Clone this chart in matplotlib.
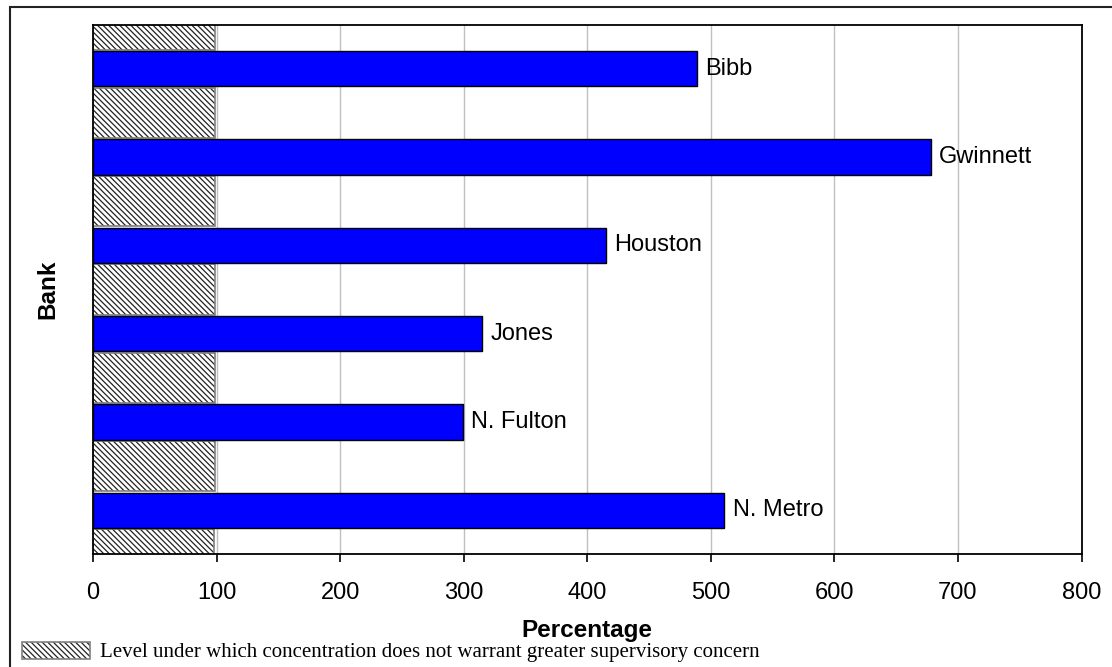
import numpy as np
import matplotlib
matplotlib.use('Agg')
import matplotlib.pyplot as plt
from matplotlib.patches import Rectangle

plt.rcParams['font.family'] = ['Liberation Sans', 'DejaVu Sans']
plt.rcParams['hatch.linewidth'] = 0.9

banks = ['Bibb', 'Gwinnett', 'Houston', 'Jones', 'N. Fulton', 'N. Metro']
pct = [489, 678, 415, 315, 299, 511]
# supervisory threshold bars sit between the banks
threshold = [99, 99, 99, 99, 99, 99, 98]

HATCH = '\\' * 6

fig = plt.figure(figsize=(11.12, 6.67), dpi=100)
ax = fig.add_axes([0.0837, 0.1694, 0.8889, 0.7931])

y = np.arange(len(banks))
ty = np.arange(len(threshold)) - 0.5

# hatch drawn in black, then a grey outline on top
ax.barh(ty, threshold, height=0.57, color='white', edgecolor='#222222',
        hatch=HATCH, linewidth=0, zorder=2)
ax.barh(ty, threshold, height=0.57, fill=False, edgecolor='#808080',
        linewidth=1.2, zorder=2.5)
ax.barh(y, pct, height=0.4, color='#0000ff', edgecolor='black',
        linewidth=1.0, zorder=3)

for yy, v, name in zip(y, pct, banks):
    ax.annotate(name, (v, yy), xytext=(6, 0), textcoords='offset points',
                va='center', ha='left', fontsize=17)

ax.set_xlim(0, 800)
ax.set_ylim(5.493, -0.493)
ax.set_xticks(range(0, 801, 100))
ax.set_yticks([])
ax.xaxis.grid(True, color='#c0c0c0', linewidth=1.0)
ax.set_axisbelow(True)
ax.tick_params(axis='x', direction='out', length=6, width=1.2,
               labelsize=17, pad=14)
for s in ax.spines.values():
    s.set_linewidth(1.3)

ax.set_xlabel('Percentage', fontsize=17.5, fontweight='bold', labelpad=11)
ax.set_ylabel('Bank', fontsize=17.5, fontweight='bold', labelpad=24)

# legend for the hatched bars
W, H = 1112, 667
box = (22 / W, 1 - 659 / H)
fig.add_artist(Rectangle(box, 68 / W, 17 / H, transform=fig.transFigure,
                         facecolor='white', edgecolor='#222222',
                         hatch=HATCH, linewidth=0))
fig.add_artist(Rectangle(box, 68 / W, 17 / H, transform=fig.transFigure,
                         fill=False, edgecolor='#808080', linewidth=1.2))
fig.text(100 / W, 1 - 652 / H,
         'Level under which concentration does not warrant greater supervisory concern',
         family=['Liberation Serif', 'DejaVu Serif'], fontsize=15,
         va='center', ha='left')

# outer frame
fig.add_artist(Rectangle((9.5 / W, -0.1), 1.2, 1.1 - 7 / H,
                         transform=fig.transFigure, fill=False,
                         edgecolor='#222222', linewidth=1.5))

fig.savefig('out.png', dpi=100)
